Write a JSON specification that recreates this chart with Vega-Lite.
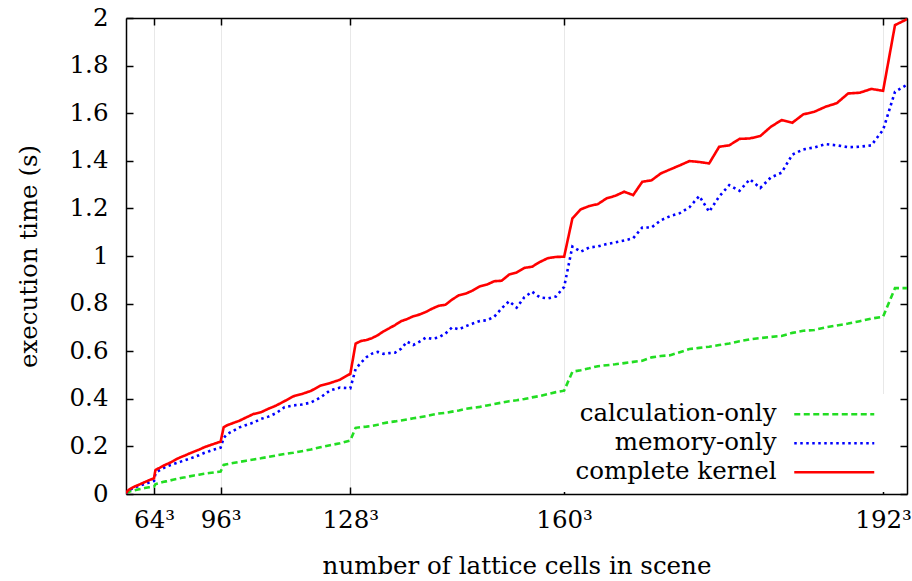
{
  "$schema": "https://vega.github.io/schema/vega-lite/v6.json",
  "width": 781,
  "height": 476,
  "autosize": {"type": "none"},
  "padding": {"left": 126, "top": 18, "right": 5, "bottom": 87},
  "background": "white",
  "config": {
    "font": "DejaVu Serif",
    "view": {"stroke": null},
    "axis": {
      "labelFont": "DejaVu Serif",
      "labelFontSize": 24.5,
      "labelColor": "black",
      "titleFont": "DejaVu Serif",
      "titleFontSize": 24.5,
      "titleFontWeight": "normal",
      "titleColor": "black",
      "domainColor": "black",
      "domainWidth": 1.5,
      "tickColor": "black",
      "tickWidth": 1.5,
      "tickSize": -7,
      "grid": false
    }
  },
  "data": {
    "values": [
      {"cells": 512, "calc": 0.001, "mem": 0.002, "full": 0.002},
      {"cells": 4096, "calc": 0.003, "mem": 0.005, "full": 0.006},
      {"cells": 13824, "calc": 0.006, "mem": 0.01, "full": 0.012},
      {"cells": 32768, "calc": 0.01, "mem": 0.017, "full": 0.02},
      {"cells": 64000, "calc": 0.014, "mem": 0.024, "full": 0.028},
      {"cells": 110592, "calc": 0.019, "mem": 0.032, "full": 0.037},
      {"cells": 175616, "calc": 0.025, "mem": 0.042, "full": 0.05},
      {"cells": 216000, "calc": 0.028, "mem": 0.048, "full": 0.058},
      {"cells": 262144, "calc": 0.031, "mem": 0.055, "full": 0.066},
      {"cells": 274625, "calc": 0.041, "mem": 0.085, "full": 0.1},
      {"cells": 287496, "calc": 0.043, "mem": 0.092, "full": 0.104},
      {"cells": 314432, "calc": 0.046, "mem": 0.1, "full": 0.11},
      {"cells": 343000, "calc": 0.05, "mem": 0.107, "full": 0.117},
      {"cells": 373248, "calc": 0.053, "mem": 0.114, "full": 0.124},
      {"cells": 405224, "calc": 0.056, "mem": 0.12, "full": 0.13},
      {"cells": 438976, "calc": 0.06, "mem": 0.125, "full": 0.138},
      {"cells": 474552, "calc": 0.063, "mem": 0.13, "full": 0.147},
      {"cells": 512000, "calc": 0.067, "mem": 0.136, "full": 0.155},
      {"cells": 551368, "calc": 0.07, "mem": 0.142, "full": 0.162},
      {"cells": 592704, "calc": 0.074, "mem": 0.148, "full": 0.17},
      {"cells": 636056, "calc": 0.078, "mem": 0.155, "full": 0.178},
      {"cells": 681472, "calc": 0.081, "mem": 0.163, "full": 0.186},
      {"cells": 729000, "calc": 0.085, "mem": 0.172, "full": 0.196},
      {"cells": 778688, "calc": 0.088, "mem": 0.18, "full": 0.204},
      {"cells": 830584, "calc": 0.091, "mem": 0.188, "full": 0.212},
      {"cells": 884736, "calc": 0.094, "mem": 0.195, "full": 0.22},
      {"cells": 912673, "calc": 0.122, "mem": 0.235, "full": 0.28},
      {"cells": 941192, "calc": 0.125, "mem": 0.25, "full": 0.288},
      {"cells": 1000000, "calc": 0.13, "mem": 0.265, "full": 0.298},
      {"cells": 1061208, "calc": 0.135, "mem": 0.28, "full": 0.308},
      {"cells": 1124864, "calc": 0.14, "mem": 0.29, "full": 0.322},
      {"cells": 1191016, "calc": 0.145, "mem": 0.3, "full": 0.336},
      {"cells": 1259712, "calc": 0.15, "mem": 0.315, "full": 0.343},
      {"cells": 1331000, "calc": 0.156, "mem": 0.325, "full": 0.358},
      {"cells": 1404928, "calc": 0.162, "mem": 0.34, "full": 0.372},
      {"cells": 1481544, "calc": 0.168, "mem": 0.365, "full": 0.39},
      {"cells": 1560896, "calc": 0.173, "mem": 0.372, "full": 0.41},
      {"cells": 1643032, "calc": 0.18, "mem": 0.376, "full": 0.42},
      {"cells": 1728000, "calc": 0.187, "mem": 0.384, "full": 0.433},
      {"cells": 1815848, "calc": 0.196, "mem": 0.405, "full": 0.455},
      {"cells": 1906624, "calc": 0.205, "mem": 0.435, "full": 0.466},
      {"cells": 2000376, "calc": 0.213, "mem": 0.447, "full": 0.48},
      {"cells": 2097152, "calc": 0.225, "mem": 0.444, "full": 0.505},
      {"cells": 2146689, "calc": 0.278, "mem": 0.525, "full": 0.632},
      {"cells": 2197000, "calc": 0.281, "mem": 0.552, "full": 0.643},
      {"cells": 2248091, "calc": 0.283, "mem": 0.575, "full": 0.647},
      {"cells": 2299968, "calc": 0.286, "mem": 0.59, "full": 0.655},
      {"cells": 2352637, "calc": 0.291, "mem": 0.597, "full": 0.667},
      {"cells": 2406104, "calc": 0.297, "mem": 0.589, "full": 0.683},
      {"cells": 2460375, "calc": 0.302, "mem": 0.592, "full": 0.696},
      {"cells": 2515456, "calc": 0.305, "mem": 0.594, "full": 0.71},
      {"cells": 2571353, "calc": 0.309, "mem": 0.61, "full": 0.726},
      {"cells": 2628072, "calc": 0.313, "mem": 0.64, "full": 0.735},
      {"cells": 2685619, "calc": 0.318, "mem": 0.626, "full": 0.747},
      {"cells": 2744000, "calc": 0.322, "mem": 0.64, "full": 0.754},
      {"cells": 2803221, "calc": 0.327, "mem": 0.657, "full": 0.765},
      {"cells": 2863288, "calc": 0.333, "mem": 0.652, "full": 0.779},
      {"cells": 2924207, "calc": 0.338, "mem": 0.658, "full": 0.791},
      {"cells": 2985984, "calc": 0.341, "mem": 0.674, "full": 0.795},
      {"cells": 3048625, "calc": 0.346, "mem": 0.7, "full": 0.817},
      {"cells": 3112136, "calc": 0.351, "mem": 0.692, "full": 0.835},
      {"cells": 3176523, "calc": 0.358, "mem": 0.705, "full": 0.842},
      {"cells": 3241792, "calc": 0.362, "mem": 0.716, "full": 0.855},
      {"cells": 3307949, "calc": 0.366, "mem": 0.727, "full": 0.872},
      {"cells": 3375000, "calc": 0.372, "mem": 0.73, "full": 0.88},
      {"cells": 3442951, "calc": 0.378, "mem": 0.745, "full": 0.894},
      {"cells": 3511808, "calc": 0.384, "mem": 0.78, "full": 0.896},
      {"cells": 3581577, "calc": 0.39, "mem": 0.81, "full": 0.922},
      {"cells": 3652264, "calc": 0.394, "mem": 0.783, "full": 0.931},
      {"cells": 3723875, "calc": 0.399, "mem": 0.827, "full": 0.95},
      {"cells": 3796416, "calc": 0.406, "mem": 0.85, "full": 0.955},
      {"cells": 3869893, "calc": 0.412, "mem": 0.826, "full": 0.975},
      {"cells": 3944312, "calc": 0.42, "mem": 0.822, "full": 0.991},
      {"cells": 4019679, "calc": 0.428, "mem": 0.83, "full": 0.996},
      {"cells": 4096000, "calc": 0.434, "mem": 0.87, "full": 0.997},
      {"cells": 4173281, "calc": 0.514, "mem": 1.04, "full": 1.158},
      {"cells": 4251528, "calc": 0.52, "mem": 1.018, "full": 1.196},
      {"cells": 4330747, "calc": 0.528, "mem": 1.036, "full": 1.21},
      {"cells": 4410944, "calc": 0.537, "mem": 1.04, "full": 1.218},
      {"cells": 4492125, "calc": 0.541, "mem": 1.05, "full": 1.242},
      {"cells": 4574296, "calc": 0.545, "mem": 1.057, "full": 1.253},
      {"cells": 4657463, "calc": 0.55, "mem": 1.065, "full": 1.27},
      {"cells": 4741632, "calc": 0.555, "mem": 1.075, "full": 1.256},
      {"cells": 4826809, "calc": 0.56, "mem": 1.12, "full": 1.312},
      {"cells": 4913000, "calc": 0.574, "mem": 1.12, "full": 1.318},
      {"cells": 5000211, "calc": 0.58, "mem": 1.15, "full": 1.347},
      {"cells": 5088448, "calc": 0.583, "mem": 1.168, "full": 1.364},
      {"cells": 5177717, "calc": 0.596, "mem": 1.18, "full": 1.381},
      {"cells": 5268024, "calc": 0.609, "mem": 1.205, "full": 1.399},
      {"cells": 5359375, "calc": 0.614, "mem": 1.252, "full": 1.395},
      {"cells": 5451776, "calc": 0.619, "mem": 1.186, "full": 1.389},
      {"cells": 5545233, "calc": 0.626, "mem": 1.25, "full": 1.459},
      {"cells": 5639752, "calc": 0.632, "mem": 1.298, "full": 1.465},
      {"cells": 5735339, "calc": 0.642, "mem": 1.274, "full": 1.492},
      {"cells": 5832000, "calc": 0.65, "mem": 1.322, "full": 1.494},
      {"cells": 5929741, "calc": 0.655, "mem": 1.286, "full": 1.504},
      {"cells": 6028568, "calc": 0.66, "mem": 1.33, "full": 1.543},
      {"cells": 6128487, "calc": 0.664, "mem": 1.35, "full": 1.571},
      {"cells": 6229504, "calc": 0.677, "mem": 1.426, "full": 1.56},
      {"cells": 6331625, "calc": 0.686, "mem": 1.448, "full": 1.595},
      {"cells": 6434856, "calc": 0.689, "mem": 1.456, "full": 1.606},
      {"cells": 6539203, "calc": 0.7, "mem": 1.47, "full": 1.627},
      {"cells": 6644672, "calc": 0.708, "mem": 1.465, "full": 1.642},
      {"cells": 6751269, "calc": 0.716, "mem": 1.457, "full": 1.683},
      {"cells": 6859000, "calc": 0.726, "mem": 1.459, "full": 1.686},
      {"cells": 6967871, "calc": 0.737, "mem": 1.465, "full": 1.702},
      {"cells": 7077888, "calc": 0.745, "mem": 1.53, "full": 1.694},
      {"cells": 7189057, "calc": 0.865, "mem": 1.69, "full": 1.97},
      {"cells": 7301384, "calc": 0.865, "mem": 1.72, "full": 1.995}
    ]
  },
  "transform": [
    {"fold": ["calc", "mem", "full"], "as": ["series", "time"]}
  ],
  "layer": [
    {
      "mark": {"type": "line", "strokeWidth": 2.6, "strokeCap": "butt", "clip": true},
      "encoding": {
        "x": {
          "field": "cells",
          "type": "quantitative",
          "scale": {"domain": [0, 7301384], "nice": false, "zero": false},
          "axis": {
            "orient": "bottom",
            "values": [262144, 884736, 2097152, 4096000, 7077888],
            "labelExpr": "round(pow(datum.value, 1/3)) + '³'",
            "grid": true,
            "gridColor": "#e8e8e8",
            "gridWidth": 1,
            "labelPadding": 21,
            "title": "number of lattice cells in scene",
            "titlePadding": 23
          }
        },
        "y": {
          "field": "time",
          "type": "quantitative",
          "scale": {"domain": [0, 2], "nice": false},
          "axis": {
            "orient": "left",
            "values": [0, 0.2, 0.4, 0.6, 0.8, 1, 1.2, 1.4, 1.6, 1.8, 2],
            "format": "~g",
            "labelPadding": 25,
            "title": "execution time (s)",
            "titlePadding": 28
          }
        },
        "color": {
          "field": "series",
          "type": "nominal",
          "scale": {"domain": ["calc", "mem", "full"], "range": ["#22dd22", "#0000ff", "#ff0000"]},
          "legend": {
            "orient": "none",
            "legendX": 434,
            "legendY": 376,
            "title": null,
            "symbolType": "M-4,0H4M4.6,0",
            "symbolSize": 400,
            "symbolStrokeWidth": 2.6,
            "rowPadding": 4,
            "padding": 8,
            "fillColor": "white",
            "labelAlign": "right",
            "labelOffset": -70,
            "symbolOffset": 254,
            "labelFont": "DejaVu Serif",
            "labelFontSize": 24.5,
            "labelColor": "black",
            "labelLimit": 400,
            "labelExpr": "datum.label == 'calc' ? 'calculation-only' : datum.label == 'mem' ? 'memory-only' : 'complete kernel'"
          }
        },
        "strokeDash": {
          "field": "series",
          "type": "nominal",
          "scale": {"domain": ["calc", "mem", "full"], "range": [[6, 3.5], [2.5, 3.5], [1, 0]]},
          "legend": {
            "orient": "none",
            "legendX": 434,
            "legendY": 376,
            "title": null,
            "symbolType": "M-4,0H4M4.6,0",
            "symbolSize": 400,
            "symbolStrokeWidth": 2.6,
            "rowPadding": 4,
            "padding": 8,
            "fillColor": "white",
            "labelAlign": "right",
            "labelOffset": -70,
            "symbolOffset": 254,
            "labelFont": "DejaVu Serif",
            "labelFontSize": 24.5,
            "labelColor": "black",
            "labelLimit": 400,
            "labelExpr": "datum.label == 'calc' ? 'calculation-only' : datum.label == 'mem' ? 'memory-only' : 'complete kernel'"
          }
        }
      }
    },
    {
      "mark": {"type": "point", "opacity": 0},
      "encoding": {
        "x": {
          "field": "cells",
          "type": "quantitative",
          "axis": {
            "orient": "top",
            "values": [262144, 884736, 2097152, 4096000, 7077888],
            "labels": false,
            "title": null
          }
        },
        "y": {
          "field": "time",
          "type": "quantitative",
          "axis": {
            "orient": "right",
            "values": [0, 0.2, 0.4, 0.6, 0.8, 1, 1.2, 1.4, 1.6, 1.8, 2],
            "labels": false,
            "title": null
          }
        }
      }
    }
  ],
  "resolve": {"axis": {"x": "independent", "y": "independent"}}
}
